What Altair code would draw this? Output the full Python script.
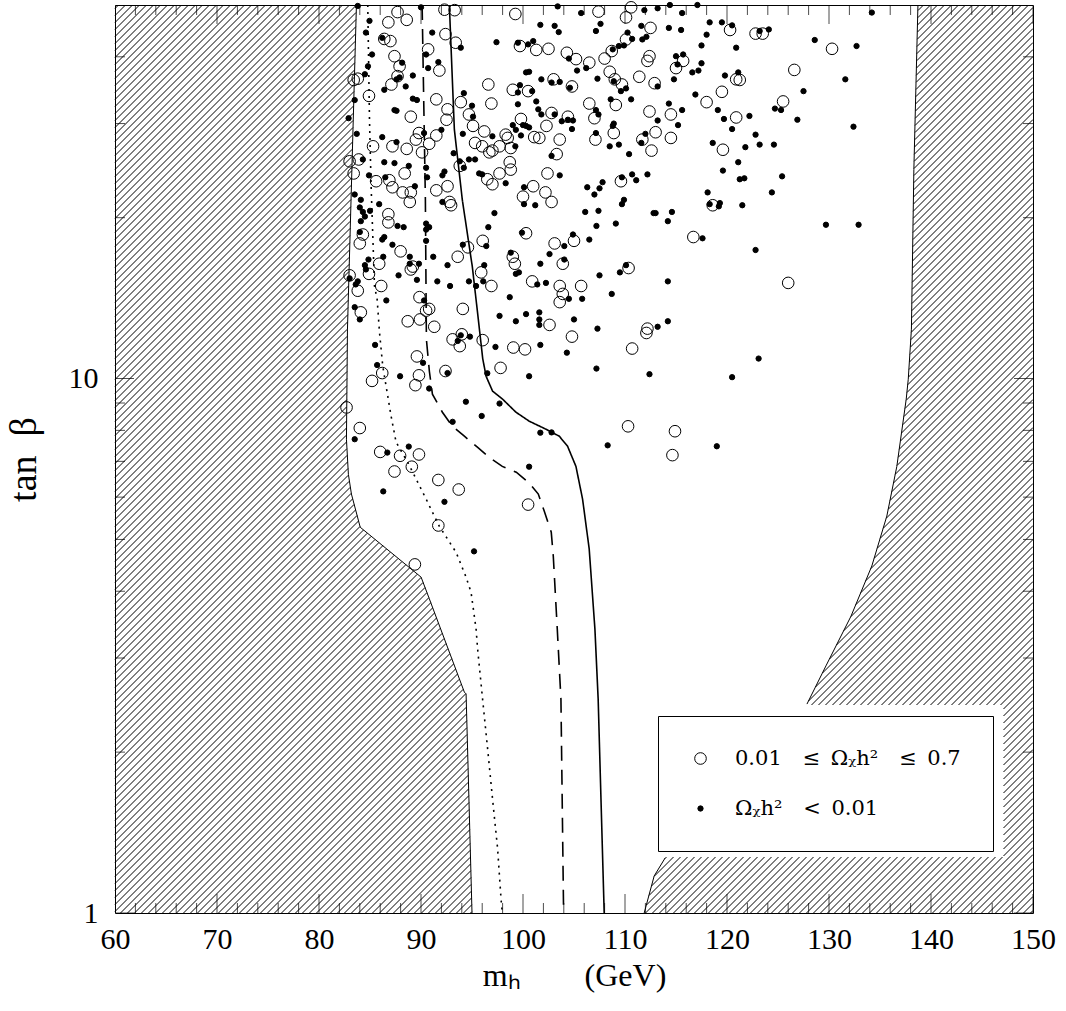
import numpy as np
import pandas as pd
import altair as alt

# ---------------- values ----------------
# open circles: 0.01 <= Omega h^2 <= 0.7
open_mh = [87.7, 92.3, 93.3, 99.25, 107.4, 110.6, 110.1, 86.8, 88.6, 86.4, 87.0, 92.4, 93.4, 99.7, 101.3,
           102.5, 104.3, 105.2, 106.5, 108.0, 108.7, 110.1, 112.5, 112.4, 112.2, 115.0, 87.4, 87.9, 90.7, 91.8,
           83.4, 83.8, 87.7, 87.1, 84.9, 96.6, 99.0, 100.5, 103.0, 104.8, 108.5, 109.0, 109.7, 111.4, 112.9,
           89.0, 91.5, 92.6, 92.5, 93.9, 94.7, 96.9, 99.8, 102.8, 104.4, 106.5, 107.0, 109.1, 112.4, 114.5,
           85.3, 87.2, 88.6, 89.8, 89.5, 90.1, 91.5, 90.8, 95.1, 96.2, 95.3, 96.0, 97.0, 96.7, 97.7,
           98.3, 98.5, 98.8, 101.1, 101.6, 102.3, 103.6, 107.1, 108.9, 111.7, 113.0, 112.6, 114.5, 103.3,
           83.0, 83.9, 83.4, 85.6, 86.9, 87.2, 88.4, 88.2, 89.0, 88.9, 91.5, 92.6, 92.8, 92.95, 93.8,
           96.5, 97.0, 97.7, 98.7, 98.8, 102.4, 101.0, 100.0, 102.2, 102.8, 109.6, 86.8, 86.8, 84.3, 84.0,
           88.0, 89.0, 89.2, 85.9, 84.9, 83.0, 83.8, 86.1, 93.6, 94.6, 96.05, 95.9, 96.9, 100.3, 103.1,
           105.0, 103.9, 99.0, 99.2, 100.9, 103.6, 103.9, 103.6, 105.7, 110.35, 84.1, 89.85, 90.8, 90.5, 88.7,
           89.9, 94.1, 91.3, 102.6, 112.2,
           120.3, 122.8, 123.5, 130.3, 115.7, 126.6, 121.25, 120.9, 119.5, 118.0, 125.5, 120.9, 119.6, 118.6,
           116.7, 126.0,
           93.1, 93.8, 94.0, 96.05, 89.6, 92.4, 89.8, 89.45, 97.8, 99.05, 100.2, 104.8, 110.7, 112.1, 85.2,
           86.2, 82.7, 84.0, 86.0, 87.95, 89.8, 87.4, 89.1, 91.7, 93.7, 100.5, 91.7, 89.4, 110.3, 114.9, 114.65]
open_tb = [48.5, 49.0, 48.9, 48.1, 48.6, 49.5, 47.4, 46.4, 46.9, 43.2, 42.8, 44.1, 42.5, 41.9, 41.2,
           41.4, 40.7, 39.6, 39.0, 39.7, 41.0, 43.1, 45.3, 40.1, 39.3, 38.1, 40.1, 38.4, 41.3, 37.7,
           36.2, 36.4, 36.8, 35.5, 33.8, 35.5, 34.7, 34.5, 36.3, 35.2, 37.5, 36.3, 35.5, 36.7, 35.7,
           30.9, 33.3, 31.9, 30.5, 32.9, 31.2, 32.7, 30.6, 31.4, 30.9, 32.7, 30.7, 32.5, 31.6, 31.2,
           27.2, 27.2, 26.9, 28.8, 28.0, 26.5, 28.5, 27.5, 29.7, 29.0, 27.6, 27.2, 26.7, 26.5, 27.2,
           28.6, 28.2, 27.0, 28.3, 28.2, 29.7, 28.0, 28.0, 28.8, 28.0, 28.9, 26.7, 28.2, 26.3,
           25.5, 25.7, 24.2, 23.4, 23.5, 22.8, 24.2, 22.3, 22.3, 21.4, 22.5, 22.9, 21.4, 21.1, 25.0,
           23.6, 23.1, 24.2, 25.4, 24.6, 24.2, 22.9, 21.9, 22.3, 21.4, 23.4, 20.3, 19.6, 18.6, 17.9,
           17.3, 16.0, 16.2, 16.4, 15.7, 15.6, 14.6, 14.9, 16.9, 17.6, 18.1, 15.8, 14.9, 18.7, 17.9,
           18.1, 16.4, 16.9, 16.4, 15.2, 14.9, 14.4, 13.9, 14.9, 16.1, 13.3, 14.2, 13.5, 13.4, 12.8,
           12.9, 13.5, 12.5, 12.6, 12.4,
           44.9, 44.2, 44.2, 41.4, 39.3, 37.8, 36.2, 36.3, 34.4, 32.9, 33.0, 30.8, 26.8, 21.1,
           18.4, 15.1,
           11.84, 11.5, 12.1, 11.8, 11.0, 10.33, 10.14, 9.72, 10.47, 11.43, 11.34, 11.98, 11.38, 12.17, 9.9,
           10.24, 8.83, 8.08, 7.29, 7.17, 7.21, 6.70, 6.84, 6.46, 6.20, 5.81, 5.31, 4.49, 8.14, 7.97, 7.19]

# filled dots: Omega h^2 < 0.01
dot_mh = [83.8, 90.0, 103.4, 114.4, 113.2, 111.9, 115.6, 105.7, 84.95, 84.6, 101.7, 103.1, 103.5, 107.6, 107.15,
          111.6, 114.3, 115.5, 86.2, 91.1, 93.9, 97.4, 99.5, 100.5, 101.0, 104.5, 106.2, 105.3, 108.8, 109.4,
          110.7, 110.25, 109.9, 112.1, 111.7, 115.0, 115.7, 115.15, 85.2, 84.8, 88.15, 90.5, 90.7, 91.7, 84.5,
          87.9, 87.6, 89.2, 88.5, 86.4, 99.7, 99.5, 100.9, 100.6, 100.3, 101.8, 102.8, 103.6, 104.6, 107.3,
          108.9, 109.6, 110.1, 113.2, 114.8, 83.5, 82.9, 87.4, 87.6, 89.2, 89.6, 94.2, 95.0, 95.1, 99.5,
          101.3, 101.5, 101.8, 103.1, 103.8, 104.4, 104.9, 107.15, 107.4, 108.6, 110.6, 113.2, 114.3, 115.6, 83.7,
          86.2, 87.6, 90.3, 92.0, 93.2, 94.1, 97.0, 99.3, 99.8, 99.0, 99.25, 100.0, 100.3, 100.6, 104.8,
          107.15, 108.5, 108.8, 109.4, 108.9, 110.4, 112.0, 111.6, 115.2, 102.8, 84.3, 84.9, 86.5, 86.4, 87.4,
          88.8, 89.4, 90.5, 90.6, 92.1, 92.3, 92.1, 93.8, 94.2, 94.7, 95.3, 95.7, 96.0, 98.3, 103.6,
          100.1, 101.2, 100.1, 106.3, 107.8, 107.5, 107.0, 109.7, 110.7, 111.1, 112.2, 109.9, 109.7, 112.8, 113.0,
          114.6, 114.2, 106.1, 107.4, 107.2, 109.1, 83.5, 84.1, 84.0, 84.3, 85.0, 84.5, 84.1, 85.9, 87.7,
          88.3, 90.5, 90.8, 84.0, 86.4, 86.2, 87.2, 88.9, 89.8, 88.9, 90.5, 90.5, 86.3, 84.85, 84.5,
          84.6, 83.0, 83.8, 83.6, 87.8, 89.6, 91.2, 91.6, 92.6, 92.85, 94.1, 96.4, 96.2, 94.7, 95.4,
          96.1, 96.6, 97.2, 99.9, 104.05, 104.9, 101.7, 102.6, 104.05, 98.8, 99.3, 99.6, 101.4, 102.25, 104.5,
          105.8, 106.5, 107.5, 108.7, 110.1, 109.5, 114.2, 83.5, 84.0, 86.6, 90.3, 97.7, 98.7, 99.3, 100.3,
          101.6, 101.6, 101.6, 105.0, 107.3, 113.2, 114.2,
          117.1, 118.3, 119.5, 120.5, 118.0, 123.2, 124.1, 117.5, 120.9, 128.6, 132.7, 134.2, 117.5, 116.6,
          117.2, 119.8, 121.1, 131.6, 116.9, 127.5, 119.1, 119.7, 122.2, 124.7, 125.3, 126.9, 120.5, 122.8,
          123.2, 124.6, 121.8, 118.6, 132.4, 121.1, 119.6, 121.25, 121.7, 125.4, 118.1, 124.4, 118.3, 119.3,
          119.2, 121.5, 129.7, 132.9, 117.6, 122.8,
          85.5, 85.7, 87.95, 90.2, 92.6, 90.8, 93.9, 93.6, 94.8, 97.3, 96.5, 94.4, 95.95, 97.7, 93.1,
          100.6, 101.7, 104.3, 107.2, 112.4, 101.7, 102.8, 108.3, 100.6, 83.5, 86.7, 88.8, 86.3, 92.3, 95.2,
          120.5, 123.1, 119.0]
dot_tb = [49.8, 49.5, 49.7, 50.0, 49.3, 48.9, 48.3, 48.3, 46.7, 44.4, 45.9, 45.7, 44.5, 46.1, 44.7,
          45.7, 45.3, 44.9, 43.4, 44.4, 41.6, 42.6, 42.5, 42.2, 42.8, 39.7, 38.1, 37.7, 41.3, 41.9,
          43.2, 44.4, 42.0, 43.6, 43.1, 40.1, 40.4, 38.7, 40.4, 38.4, 39.0, 40.4, 38.1, 39.1, 37.1,
          36.6, 36.3, 36.9, 35.2, 34.7, 35.4, 34.3, 34.5, 37.5, 37.4, 36.3, 35.8, 35.9, 35.0, 36.4,
          36.0, 34.5, 34.9, 35.2, 36.3, 33.2, 30.7, 31.8, 31.7, 33.4, 33.2, 34.2, 32.4, 30.9, 32.6,
          33.0, 31.9, 31.2, 31.2, 30.3, 30.5, 30.4, 31.8, 31.2, 33.3, 33.3, 30.4, 32.7, 31.8, 28.7,
          28.3, 27.7, 28.8, 29.2, 26.4, 28.7, 28.4, 29.2, 28.5, 29.8, 27.2, 29.8, 29.7, 29.5, 29.3,
          28.8, 27.2, 29.7, 27.4, 30.0, 26.3, 28.7, 27.6, 29.8, 26.1, 25.7, 24.0, 23.8, 25.4, 25.3,
          25.0, 22.9, 24.8, 23.8, 24.0, 24.4, 21.4, 25.5, 24.8, 25.7, 25.7, 24.2, 24.1, 23.2, 24.0,
          22.8, 21.1, 21.2, 22.8, 23.3, 22.7, 22.1, 23.8, 24.1, 23.5, 24.1, 21.6, 21.2, 20.4, 20.4,
          20.5, 19.7, 20.5, 20.6, 19.3, 19.5, 22.1, 21.6, 20.9, 20.5, 20.6, 20.1, 19.7, 21.2, 19.3,
          19.2, 19.5, 19.2, 18.8, 18.4, 18.2, 17.8, 16.9, 16.4, 16.4, 19.0, 18.1, 16.9, 16.7, 16.3,
          16.0, 15.4, 15.2, 15.0, 15.6, 15.3, 16.9, 15.2, 16.3, 14.9, 17.8, 17.7, 16.3, 15.2, 14.9,
          15.2, 19.2, 20.4, 18.75, 17.7, 18.6, 16.4, 17.1, 16.7, 17.2, 15.7, 15.8, 15.0, 15.1, 14.1,
          14.1, 18.2, 15.6, 14.4, 16.3, 15.8, 15.2, 13.6, 12.9, 14.0, 14.0, 13.1, 14.2, 12.8, 13.2,
          13.3, 12.9, 12.6, 12.9, 12.4, 12.5, 12.8,
          50.0, 46.4, 46.4, 45.8, 44.0, 44.7, 45.0, 42.0, 41.6, 43.0, 41.9, 48.4, 38.9, 37.4,
          37.7, 36.9, 37.4, 36.3, 34.0, 34.5, 31.8, 30.6, 31.0, 32.0, 31.8, 30.5, 29.3, 28.6,
          27.4, 27.4, 27.1, 27.6, 29.6, 25.4, 24.5, 23.6, 23.7, 23.9, 22.3, 22.3, 21.2, 21.3,
          21.0, 21.1, 19.4, 19.4, 18.3, 17.4,
          11.56, 10.6, 10.1, 10.7, 10.24, 9.58, 12.05, 11.76, 11.98, 11.46, 10.23, 9.05, 8.51, 8.98, 8.30,
          10.1, 11.56, 11.18, 10.44, 10.19, 7.92, 7.93, 7.50, 6.84, 7.70, 7.27, 7.46, 6.15, 5.88, 4.75,
          10.06, 10.9, 7.47]

# contour curves
solid_mh = [92.78, 93.27, 94.05, 95.03, 95.62, 96.05, 96.38, 97.02, 98.00, 99.31, 100.62, 102.25, 103.56,
            104.37, 105.19, 105.84, 106.49, 107.05, 107.37, 107.96]
solid_tb = [50, 29.25, 21.6, 16.2, 12.9, 10.9, 10.1, 9.47, 9.15, 8.65, 8.32, 8.04, 7.80,
            7.47, 6.85, 5.95, 4.80, 3.40, 2.51, 1.0]
dashed_mh = [90.11, 90.43, 90.50, 90.53, 90.82, 91.12, 92.10, 93.08, 94.25, 95.53, 96.70, 97.97, 99.34,
             100.62, 101.50, 102.08, 102.77, 102.97, 103.36, 103.72, 103.98]
dashed_tb = [50, 21.6, 14.07, 11.84, 10.32, 9.35, 8.65, 8.14, 7.80, 7.44, 7.12, 6.85, 6.68,
             6.37, 6.08, 5.65, 5.16, 4.65, 3.40, 2.51, 1.0]
dotted_mh = [84.78, 84.95, 85.11, 85.44, 85.70, 85.93, 86.25, 86.58, 87.07, 87.56, 88.70, 90.50, 91.80,
             93.44, 94.42, 94.91, 95.40, 95.55, 96.04, 96.53, 97.02, 97.51, 97.85, 97.97]
dotted_tb = [50, 30.5, 22.9, 14.9, 14.07, 12.21, 10.55, 9.67, 8.50, 7.60, 6.97, 5.95, 5.29,
             4.73, 4.25, 3.98, 3.40, 3.12, 2.51, 2.03, 1.63, 1.32, 1.06, 1.0]

# excluded (hatched) regions
left_mh = [83.67, 82.79, 82.69, 82.88, 83.18, 84.04, 90.01, 90.82, 94.25, 94.42, 95.0]
left_tb = [50, 12.37, 7.70, 6.62, 6.08, 5.27, 4.25, 3.87, 2.59, 2.57, 1.0]
right_up_mh = [138.72, 138.32, 138.08, 137.77, 137.57, 136.65, 135.67, 134.20, 132.15, 129.70, 127.84]
right_up_tb = [50, 24.6, 12.37, 9.97, 9.15, 6.85, 5.53, 4.46, 3.59, 2.90, 2.46]
right_lo_mh = [113.93, 112.86, 111.88]
right_lo_tb = [1.267, 1.173, 1.0]
legend_clear_mh = [110.0, 147.1]
legend_clear_tb = [1.273, 2.449]

x_major = [60, 70, 80, 90, 100, 110, 120, 130, 140, 150]
x_minor = [v for v in range(62, 150, 2) if v % 10 != 0]
y_major = [1, 10]
y_minor = [2, 3, 4, 5, 6, 7, 8, 9, 20, 30, 40]

OPEN_LABEL = "0.01\u2003\u2264\u2002\u03a9\u1d6ah\u00b2\u2003\u2264\u20020.7"
DOT_LABEL = "\u03a9\u1d6ah\u00b2\u2003<\u20020.01"

# ---------------- geometry ----------------
W, H = 918, 908
XLO, XHI = 60.0, 150.0
YLO, YHI = 1.0, 50.0
LSPAN = np.log10(YHI) - np.log10(YLO)

def px_to_data(px, py):
    return XLO + px / W * (XHI - XLO), 10 ** (np.log10(YLO) + (H - py) / H * LSPAN)

ll = np.log10(left_tb)
o = np.argsort(ll)
llx = np.array(left_mh)[o]
ll = ll[o]
rr_mh = np.array(right_up_mh + right_lo_mh)
rr = np.log10(right_up_tb + right_lo_tb)
o = np.argsort(rr)
rrx = rr_mh[o]
rr = rr[o]

segs = []
for c in np.arange(3.5, W + H, 7.0):
    p = np.arange(max(0.0, c - H), min(float(W), c) + 1e-9, 0.25)
    if len(p) < 2:
        continue
    q = c - p
    x, y = px_to_data(p, q)
    lg = np.log10(y)
    inl = x <= np.interp(lg, ll, llx)
    clear = ((x >= legend_clear_mh[0]) & (x <= legend_clear_mh[1]) &
             (y >= legend_clear_tb[0]) & (y <= legend_clear_tb[1]))
    inr = (x >= np.interp(lg, rr, rrx)) & ~clear
    for mask in (inl, inr):
        d = np.diff(np.concatenate([[0], mask.astype(int), [0]]))
        starts = np.where(d == 1)[0]
        ends = np.where(d == -1)[0] - 1
        for s, e in zip(starts, ends):
            if e > s:
                segs.append((x[s], y[s], x[e], y[e]))
hatch = pd.DataFrame(segs, columns=["x1", "y1", "x2", "y2"])

bounds = pd.concat([
    pd.DataFrame({"mh": left_mh, "tb": left_tb, "seg": "L"}),
    pd.DataFrame({"mh": right_up_mh, "tb": right_up_tb, "seg": "RU"}),
    pd.DataFrame({"mh": right_lo_mh, "tb": right_lo_tb, "seg": "RL"}),
])
bounds["i"] = range(len(bounds))

def curve(mh, tb):
    return pd.DataFrame({"mh": mh, "tb": tb, "i": range(len(mh))})

pts = pd.concat([
    pd.DataFrame({"mh": open_mh, "tb": open_tb, "cls": OPEN_LABEL}),
    pd.DataFrame({"mh": dot_mh, "tb": dot_tb, "cls": DOT_LABEL}),
])

# ---------------- chart ----------------
SERIF = "Liberation Serif"
xs = alt.Scale(domain=[XLO, XHI], nice=False, zero=False)
ys = alt.Scale(type="log", domain=[YLO, YHI], nice=False)

xaxis = alt.Axis(values=x_major, ticks=False, domain=False, grid=False,
                 labelFont=SERIF, labelFontSize=30, labelPadding=11, labelColor="black",
                 labelFlush=False, title="m\u2095\u2003\u2003(GeV)", titleFont=SERIF, titleFontSize=32,
                 titleFontWeight="normal", titleColor="black", titlePadding=6)
yaxis = alt.Axis(values=y_major, ticks=False, domain=False, grid=False, format="d",
                 labelFont=SERIF, labelFontSize=30, labelPadding=17, labelColor="black",
                 labelFlush=False, title="tan\u2002\u03b2", titleFont=SERIF, titleFontSize=38,
                 titleFontWeight="normal", titleColor="black", titlePadding=25)

legend = alt.Legend(title=None, orient="none", legendX=543, legendY=711, padding=32,
                    rowPadding=28, strokeColor="black", fillColor="white",
                    labelFont="DejaVu Serif", labelFontSize=21, labelColor="black", labelOffset=24,
                    labelLimit=500, symbolStrokeColor="black", symbolStrokeWidth=1,
                    symbolType="circle", cornerRadius=0)

LABELS = [OPEN_LABEL, DOT_LABEL]

def X(field):
    return alt.X(field, scale=xs, axis=xaxis)

def Y(field):
    return alt.Y(field, scale=ys, axis=yaxis)

hatch_layer = alt.Chart(hatch).mark_rule(color="black", strokeWidth=1).encode(
    x=X("x1:Q"), y=Y("y1:Q"), x2="x2:Q", y2="y2:Q")

bound_layer = alt.Chart(bounds).mark_line(color="black", strokeWidth=1).encode(
    x=X("mh:Q"), y=Y("tb:Q"), detail="seg:N", order="i:Q")

def curve_layer(mh, tb, dash, width):
    return alt.Chart(curve(mh, tb)).mark_line(color="black", strokeWidth=width, strokeDash=dash).encode(
        x=X("mh:Q"), y=Y("tb:Q"), order="i:Q")

solid = curve_layer(solid_mh, solid_tb, [1, 0], 1.6)
dashed = curve_layer(dashed_mh, dashed_tb, [15, 9], 1.6)
dotted = curve_layer(dotted_mh, dotted_tb, [2, 5], 1.6)

points = alt.Chart(pts).mark_point(shape="circle", filled=True, strokeWidth=1,
                                   opacity=1, fillOpacity=1).encode(
    x=X("mh:Q"),
    y=Y("tb:Q"),
    fill=alt.Fill("cls:N", scale=alt.Scale(domain=LABELS, range=["transparent", "black"]), legend=legend),
    stroke=alt.Stroke("cls:N", scale=alt.Scale(domain=LABELS, range=["black", "black"]), legend=legend),
    size=alt.Size("cls:N", scale=alt.Scale(type="point", domain=LABELS, range=[135, 28], padding=0),
                  legend=legend),
)

def xticks(vals, at, length):
    return alt.Chart(pd.DataFrame({"v": vals})).mark_tick(
        orient="vertical", clip=True, color="black", thickness=1, size=2 * length).encode(
        x=X("v:Q"), y=alt.Y(datum=at, scale=ys, axis=yaxis))

def yticks(vals, at, length):
    return alt.Chart(pd.DataFrame({"v": vals})).mark_tick(
        orient="horizontal", clip=True, color="black", thickness=1, size=2 * length).encode(
        y=Y("v:Q"), x=alt.X(datum=at, scale=xs, axis=xaxis))

ticks = [xticks(x_major, YLO, 19), xticks(x_minor, YLO, 10), xticks(x_major, YHI, 19), xticks(x_minor, YHI, 10),
         yticks(y_major, XLO, 19), yticks(y_minor, XLO, 10), yticks(y_major, XHI, 19), yticks(y_minor, XHI, 10)]

chart = alt.layer(points, hatch_layer, bound_layer, solid, dashed, dotted, *ticks).properties(
    width=W, height=H,
    padding={"left": 115, "top": 5, "right": 33, "bottom": 98},
    autosize=alt.AutoSizeParams(type="none"),
    background="white",
).configure_view(stroke="black", strokeWidth=1)

chart.save("out.html", embed_options={"renderer": "svg", "actions": False})
